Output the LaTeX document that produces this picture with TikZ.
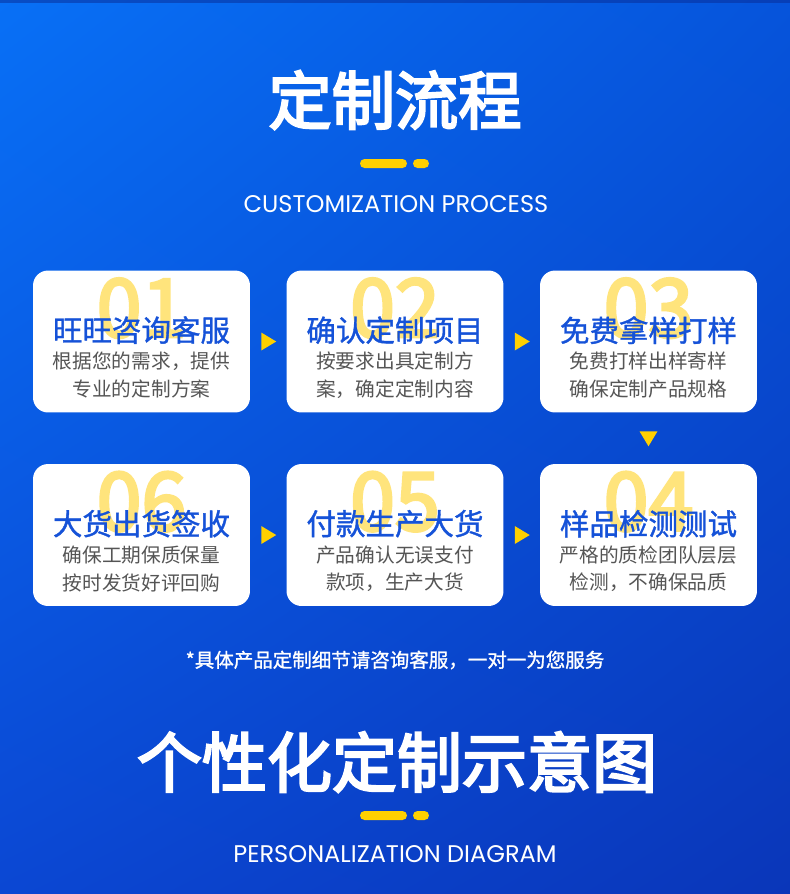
\documentclass[tikz,border=0pt]{standalone}
\usepackage{fontspec}
\setmainfont{Noto Sans CJK SC}
\newfontfamily\medfont[FakeBold=3.5]{Noto Sans CJK SC}
\newfontfamily\semifont[FakeBold=1.2]{Noto Sans CJK SC}
\newfontfamily\latinfont{Poppins}
\usepackage{tikz}
\usetikzlibrary{calc,shadings}
\definecolor{bgUL}{HTML}{0870F6}
\definecolor{bgUR}{HTML}{0654DB}
\definecolor{bgLL}{HTML}{0B47D3}
\definecolor{bgLR}{HTML}{0A36B9}
\definecolor{barYellow}{HTML}{FFD000}
\definecolor{numYellow}{HTML}{FFE47C}
\definecolor{stepBlue}{HTML}{1552D8}
\definecolor{stepGray}{HTML}{555555}

\begin{document}
\begin{tikzpicture}[x=0.02cm, y=-0.02cm,
    card/.style={fill=white, rounded corners=0.3cm, minimum width=4.34cm, minimum height=2.84cm, inner sep=0pt},
    bignum/.style={numYellow, font=\medfont\fontsize{46pt}{50pt}\selectfont, inner sep=0pt},
    steptitle/.style={stepBlue, font=\semifont\fontsize{16.8pt}{20pt}\selectfont, inner sep=0pt},
    stepdesc/.style={stepGray, font=\fontsize{11.2pt}{14pt}\selectfont, inner sep=0pt},
    heading/.style={white, font=\medfont\fontsize{36pt}{40pt}\selectfont, inner sep=0pt},
    subheading/.style={white, font=\latinfont\fontsize{13.7pt}{16pt}\selectfont, inner sep=0pt},
    arrowtip/.style={fill=barYellow}]
  \useasboundingbox (0,0) rectangle (790,894);
  \shade[upper left=bgUL, upper right=bgUR, lower left=bgLL, lower right=bgLR] (0,0) rectangle (790,894);
  \fill[bgLR!80!black, opacity=.5] (0,0) rectangle (790,3);

  % heading 1
  \node[heading] (head1) at (395,100) {定制流程};
  \fill[barYellow, rounded corners=0.09cm] (360,159) rectangle (407,168);
  \fill[barYellow, rounded corners=0.09cm] (413,159) rectangle (429,168);
  \node[subheading] (sub1) at (396,204) {CUSTOMIZATION PROCESS};

  % step cards
  \foreach \i/\x/\y/\num/\ttl/\la/\lb in {
      1/141.5/341.5/01/旺旺咨询客服/根据您的需求，提供/专业的定制方案,
      2/395/341.5/02/确认定制项目/按要求出具定制方/案，确定定制内容,
      3/648.5/341.5/03/免费拿样打样/免费打样出样寄样/确保定制产品规格,
      4/648.5/535/04/样品检测测试/严格的质检团队层层/检测，不确保品质,
      5/395/535/05/付款生产大货/产品确认无误支付/款项，生产大货,
      6/141.5/535/06/大货出货签收/确保工期保质保量/按时发货好评回购}{
    \node[card] (c\i) at (\x,\y) {};
    \node[bignum] (n\i) at ($(c\i.north)+(0,38)$) {\num};
    \node[steptitle] (t\i) at ($(c\i.north)+(0,60)$) {\ttl};
    \node[stepdesc] (da\i) at ($(c\i.north)+(0,91)$) {\la};
    \node[stepdesc] (db\i) at ($(c\i.north)+(0,119)$) {\lb};
  }

  % arrows between cards
  \foreach \a/\b in {c1/c2, c2/c3, c6/c5, c5/c4}{
    \coordinate (m) at ($(\a.east)!0.5!(\b.west)$);
    \fill[arrowtip] (m) ++(-7,-9) -- ++(15,9) -- ++(-15,9) -- cycle;
  }
  \coordinate (m34) at ($(c3.south)!0.5!(c4.north)$);
  \fill[arrowtip] (m34) ++(-9,-7) -- ++(18,0) -- ++(-9,15) -- cycle;

  % note
  \node[white, font=\semifont\fontsize{11.1pt}{14pt}\selectfont, inner sep=0pt] (note) at (395,660)
    {*具体产品定制细节请咨询客服，一对一为您服务};

  % heading 2
  \node[heading, font=\medfont\fontsize{37pt}{41pt}\selectfont] (head2) at (397,762) {个性化定制示意图};
  \fill[barYellow, rounded corners=0.09cm] (360,811) rectangle (407,820);
  \fill[barYellow, rounded corners=0.09cm] (413,811) rectangle (429,820);
  \node[subheading] (sub2) at (395,854) {PERSONALIZATION DIAGRAM};
\end{tikzpicture}
\end{document}
